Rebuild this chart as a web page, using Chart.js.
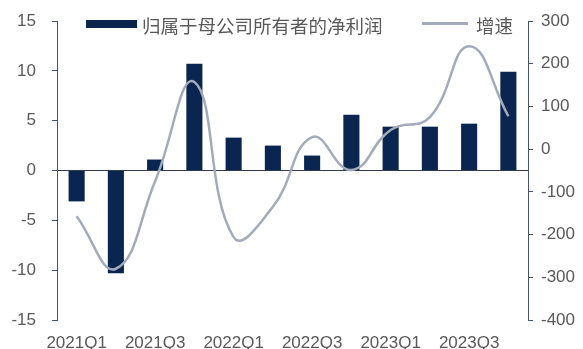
<!DOCTYPE html>
<html lang="zh">
<head>
<meta charset="UTF-8">
<title>归属于母公司所有者的净利润</title>
<script src="https://cdn.jsdelivr.net/npm/chart.js"></script>
<style>
    body {
        margin: 0;
        background: #fff;
    }
    .wrap {
        position: relative;
        width: 583px;
        height: 349px;
    }
    .legend {
        position: absolute;
        top: 13px;
        font-family: "Noto Sans CJK SC", sans-serif;
        font-size: 18.5px;
        line-height: 24px;
        color: #595959;
        white-space: nowrap;
    }
    .swatch {
        position: absolute;
    }
</style>
</head>
<body>
<div class="wrap">
    <canvas id="grafico"></canvas>
    <div class="swatch" style="left:86px;top:20px;width:51px;height:8px;background:#0A2650;"></div>
    <div class="legend" style="left:142px;">归属于母公司所有者的净利润</div>
    <div class="swatch" style="left:422px;top:22px;width:46px;height:2.5px;background:#A3ABBB;"></div>
    <div class="legend" style="left:476px;">增速</div>
</div>

<script>
const quarters = ['2021Q1', '2021Q2', '2021Q3', '2021Q4', '2022Q1', '2022Q2',
    '2022Q3', '2022Q4', '2023Q1', '2023Q2', '2023Q3', '2023Q4'];
// 归母净利润 (left axis)
const netProfit = [-3.1, -10.3, 1.1, 10.7, 3.3, 2.5, 1.5, 5.6, 4.4, 4.4, 4.7, 9.9];
// 增速 (right axis)
const growth = [-157, -280, -75, 157, -206, -135, 28, -49, 45, 75, 241, 77];
const leftTicks = [-15, 15, 5];
const rightTicks = [-400, 300, 100];

const axisColor = '#44546A';
const tickFont = { family: 'Liberation Sans, Arial, sans-serif', size: 17 };

// y axes: fixed width, no extra room reserved for half labels
function fixWidth(w) {
    return function (s) {
        s.width = w;
        s.paddingTop = 0;
        s.paddingBottom = 0;
    };
}

const grafico = document.getElementById('grafico');
new Chart(grafico, {
    type: 'bar',
    data: {
        labels: quarters,
        datasets: [{
            type: 'line',
            label: '增速',
            data: growth,
            yAxisID: 'y1',
            borderColor: '#A3ABBB',
            borderWidth: 2.5,
            pointRadius: 0,
            tension: 0.45,
            fill: false,
            order: 0
        }, {
            label: '归属于母公司所有者的净利润',
            data: netProfit,
            yAxisID: 'y',
            backgroundColor: '#0A2650',
            barPercentage: 0.41,
            categoryPercentage: 1,
            order: 1
        }]
    },
    options: {
        responsive: true,
        maintainAspectRatio: false,
        animation: false,
        layout: { padding: { top: 21, bottom: 0, left: 0, right: 0 } },
        plugins: {
            legend: { display: false },
            tooltip: { enabled: false }
        },
        scales: {
            x: {
                grid: { display: false },
                border: { display: false },
                ticks: {
                    autoSkip: false,
                    maxRotation: 0,
                    padding: 5,
                    color: '#595959',
                    font: tickFont,
                    callback: function (v, i) {
                        return i % 2 === 0 ? quarters[i] : '';
                    }
                },
                afterFit: function (s) { s.height = 29; }
            },
            y: {
                position: 'left',
                min: leftTicks[0],
                max: leftTicks[1],
                ticks: {
                    stepSize: leftTicks[2],
                    padding: 16,
                    color: '#595959',
                    font: tickFont
                },
                grid: {
                    drawOnChartArea: true,
                    tickLength: 5,
                    tickColor: axisColor,
                    color: function (ctx) {
                        return ctx.tick && ctx.tick.value === 0 ? '#2F3B4C' : 'rgba(0,0,0,0)';
                    }
                },
                border: { color: axisColor, width: 1 },
                afterFit: fixWidth(57)
            },
            y1: {
                position: 'right',
                min: rightTicks[0],
                max: rightTicks[1],
                ticks: {
                    stepSize: rightTicks[2],
                    padding: 8,
                    color: '#595959',
                    font: tickFont
                },
                grid: {
                    drawOnChartArea: false,
                    tickLength: 5,
                    color: axisColor
                },
                border: { color: axisColor, width: 1 },
                afterFit: fixWidth(55)
            }
        }
    }
});
</script>
</body>
</html>
